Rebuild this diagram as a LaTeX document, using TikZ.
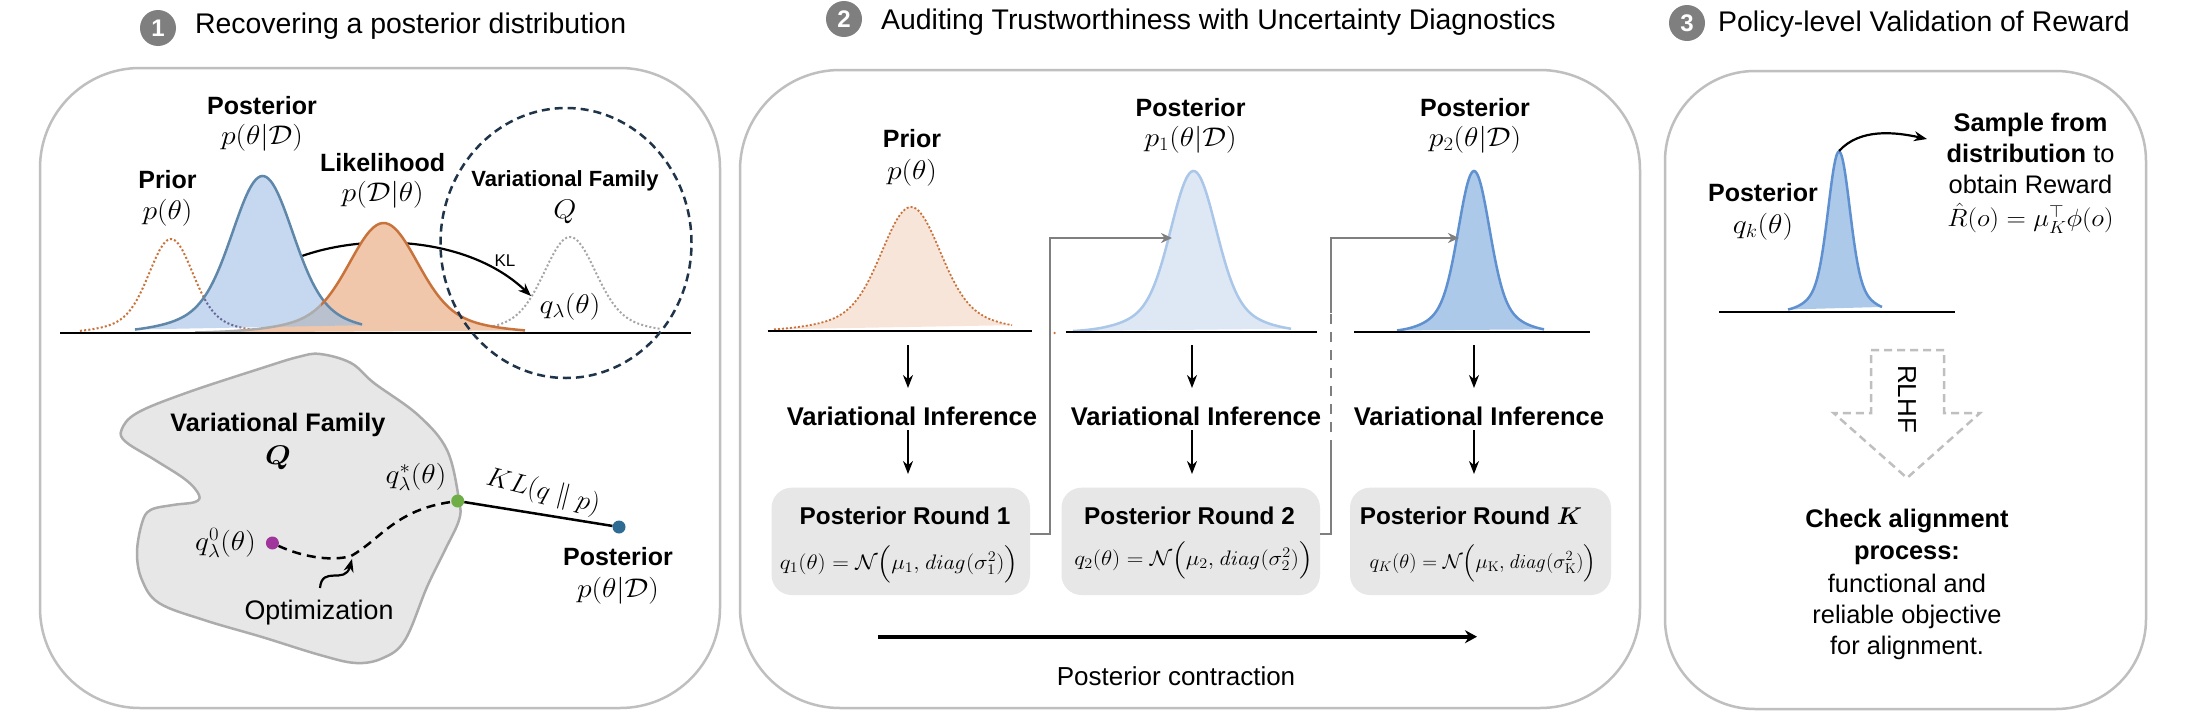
\RequirePackage{fix-cm}
\documentclass[tikz,border=0pt]{standalone}
\usepackage{amsmath}
\usepackage{bm}
\usepackage[no-math]{fontspec}
\setmainfont{Liberation Sans}
\usetikzlibrary{arrows.meta,shapes.geometric}
\newcommand{\fs}[1]{\fontsize{#1pt}{#1pt}\selectfont}
\newcommand{\mx}[1]{\scalebox{1.1}[1]{$#1$}}
% bell curve path: base y, height, centre, sigma, from, to
\newcommand{\bellp}[6]{plot[domain=#5:#6,samples=110,smooth] (\x,{#1-#2*(0.8*exp(-0.5*((\x-#3)/(0.9*#4))^2)+0.2*exp(-0.5*((\x-#3)/(1.9*#4))^2))})}
\definecolor{panelc}{HTML}{BFBFBF}
\definecolor{boxc}{HTML}{E7E7E7}
\definecolor{circc}{HTML}{7F7F7F}
\definecolor{postfill}{HTML}{C5D8EF}
\definecolor{postline}{HTML}{5F87AA}
\definecolor{likefill}{HTML}{F1C7AB}
\definecolor{likeline}{HTML}{C9733C}
\definecolor{overlap}{HTML}{BAC1CE}
\definecolor{navy}{HTML}{1F3349}
\definecolor{priorfill}{HTML}{F8E5D9}
\definecolor{pafill}{HTML}{DEE8F5}
\definecolor{paline}{HTML}{AAC6E8}
\definecolor{pbfill}{HTML}{ADC9EA}
\definecolor{pbline}{HTML}{5F90D0}
\definecolor{ptg}{HTML}{6FAD47}
\definecolor{ptm}{HTML}{A0359C}
\definecolor{ptb}{HTML}{2E6C93}
\tikzset{
  panel/.style={draw=panelc,line width=2.5pt,rounded corners=#1},
  numdot/.style={circle,fill=circc,text=white,inner sep=0pt,minimum size=36pt,font=\fs{24}\bfseries},
  head/.style={inner sep=0pt,font=\fs{28.4},anchor=west},
  lab/.style={inner sep=0pt,font=\fs{25}\bfseries,align=center},
  txt/.style={inner sep=0pt,font=\fs{25.4},align=center},
  mth/.style={inner sep=0pt,font=\fs{27}},
  axisl/.style={draw=black,line width=2.8pt},
  dotl/.style={line width=2pt,dash pattern=on 2pt off 2.2pt},
  arr/.style={draw=black,line width=1.8pt,-{Stealth[length=13pt,width=10pt]}},
  garr/.style={draw=circc,line width=2.5pt},
  rbox/.style={fill=boxc,rounded corners=20pt},
  pt/.style={circle,inner sep=0pt,minimum size=13pt},
}
\begin{document}
\begin{tikzpicture}[x=1pt,y=-1pt]
\useasboundingbox (0,0) rectangle (2196,728);
\fill[white] (0,0) rectangle (2196,728);

% ---------- headings
\node[numdot] (n1) at (158,28) {1};
\node[head] (h1) at (195,26) {Recovering a posterior distribution};
\node[numdot] (n2) at (844,19) {2};
\node[head] (h2) at (881,22) {Auditing Trustworthiness with Uncertainty Diagnostics};
\node[numdot] (n3) at (1687,23) {3};
\node[head] (h3) at (1718,24) {Policy-level Validation of Reward};

% ---------- panels
\draw[panel=100pt] (40,68) rectangle (720,708);
\draw[panel=100pt] (740,70) rectangle (1640,708);
\draw[panel=90pt] (1665,71) rectangle (2146,709);

% ---------- panel 1 curves
\draw[likeline,dotl] \bellp{333}{94}{171}{23}{80}{262};
\draw[gray!70,dotl] \bellp{333}{96}{570}{27}{485}{660};
\coordinate (klstart) at (302,256);
\coordinate (klend) at (531,296);
\fill[postfill] \bellp{333}{157}{262.6}{32}{135}{365} -- cycle;
\begin{scope}
\clip \bellp{333}{157}{262.6}{32}{135}{365} -- cycle;
\draw[gray!80!blue,dotl] \bellp{333}{94}{171}{23}{80}{262};
\end{scope}
\draw[arr,line width=2.2pt] (klstart) .. controls (370,232) and (470,238) .. (klend);
\fill[likefill] \bellp{333}{110}{383.6}{36}{195}{525} -- cycle;
\begin{scope}
\clip \bellp{333}{157}{262.6}{32}{135}{365} -- cycle;
\fill[overlap] \bellp{333}{110}{383.6}{36}{195}{525} -- cycle;
\end{scope}
\draw[postline,line width=2.5pt] \bellp{333}{157}{262.6}{32}{135}{362};
\begin{scope}
\clip (321,200) rectangle (530,340);
\draw[likeline,line width=2.5pt] \bellp{333}{110}{383.6}{36}{195}{525};
\end{scope}
\begin{scope}
\clip (195,200) rectangle (321,340);
\draw[gray!65,line width=2.5pt] \bellp{333}{110}{383.6}{36}{195}{525};
\end{scope}
\draw[axisl] (60,333) -- (691,333);
\node[draw=navy,dash pattern=on 8pt off 5pt,line width=2.5pt,ellipse,inner sep=0pt,minimum width=251pt,minimum height=270pt] (vf) at (566,243) {};

\node[lab] (l1) at (262,106) {Posterior};
\node[mth] (m1) at (262,138) {\mx{p(\theta|\mathcal{D})}};
\node[lab] (l2) at (167.5,180) {Prior};
\node[mth] (m2) at (167.5,213) {\mx{p(\theta)}};
\node[lab] (l3) at (382.7,163) {Likelihood};
\node[mth] (m3) at (382.7,195) {\mx{p(\mathcal{D}|\theta)}};
\node[lab,font=\fs{22}\bfseries] (l4) at (565,181) {Variational Family};
\node[mth] (m4) at (565,212) {\mx{Q}};
\node[mth] (m5) at (570,307) {\mx{q_\lambda(\theta)}};
\node[txt,font=\fs{17}] (kl) at (505,261) {KL};

% ---------- blob
\draw[fill=boxc,draw=gray!65,line width=2.5pt] plot[smooth cycle,tension=0.6] coordinates {
(320,354) (351,363) (374,383) (418,415) (447,450) (459,500) (459,520) (445,550) (427,587) (405,640)
(383,658) (356,663) (320,655) (262,637) (204,620) (159,603) (142,580) (137,553) (142,523) (150.5,510)
(173,505) (195,502) (199,495) (186,480) (155,460) (126,442) (121.5,430) (137,413) (186,393) (262,368) (298,357)};
\node[lab,font=\fs{25.3}\bfseries] (l5) at (278,425) {Variational Family};
\node[mth] (m6) at (278,458) {\mx{\bm{Q}}};
\node[mth] (m7) at (416,477) {\mx{q_\lambda^{*}(\theta)}};
\node[mth] (m8) at (225.5,543) {\mx{q_\lambda^{0}(\theta)}};
\node[pt,fill=ptg] (pg) at (457.7,501) {};
\node[pt,fill=ptm] (pm) at (272.4,543) {};
\node[pt,fill=ptb] (pb) at (619,527) {};
\coordinate (optmid) at (351,556);
\draw[black,line width=2.5pt,dash pattern=on 9pt off 6pt] (pm) .. controls (300,556) and (330,562) .. (optmid) .. controls (380,540) and (395,510) .. (pg);
\draw[black,line width=2.5pt] (pg) -- (pb);
\node[txt,font=\fs{26.8}] (opt) at (319,613) {Optimization};
\coordinate (optarr) at (352,559);
\draw[arr,line width=2.2pt] (320,588) .. controls (322,565) and (345,585) .. (optarr);
\node[mth,rotate=-14] (m9) at (543,492) {$KL(q\parallel p)$};
\node[lab] (l6) at (618,557) {Posterior};
\node[mth] (m10) at (618,591) {\mx{p(\theta|\mathcal{D})}};

% ---------- panel 2
\fill[priorfill] \bellp{331}{124}{911}{31}{774}{1012} -- cycle;
\draw[likeline,line width=1.8pt,dash pattern=on 2pt off 2pt] \bellp{331}{124}{911}{31}{774}{1012};
\draw[axisl] (767.5,331) -- (1031.6,331);
\fill[pafill] \bellp{332}{161}{1193.5}{24}{1073}{1291} -- cycle;
\draw[paline,line width=2.5pt] \bellp{332}{161}{1193.5}{24}{1073}{1291};
\draw[axisl] (1065.5,332) -- (1317,332);
\fill[pbfill] \bellp{332}{161}{1474}{16.5}{1397}{1544} -- cycle;
\draw[pbline,line width=2.5pt] \bellp{332}{161}{1474}{16.5}{1397}{1544};
\draw[axisl] (1354,332) -- (1590,332);

\node[lab] (a1) at (912,139) {Prior};
\node[mth] (a2) at (912,173) {\mx{p(\theta)}};
\node[lab] (a3) at (1190.6,108) {Posterior};
\node[mth] (a4) at (1190.6,140) {\mx{p_1(\theta|\mathcal{D})}};
\node[lab] (a5) at (1475,108) {Posterior};
\node[mth] (a6) at (1475,140) {\mx{p_2(\theta|\mathcal{D})}};

\coordinate (d1a) at (908,345); \coordinate (d1b) at (908,388);
\coordinate (d2a) at (1192,345); \coordinate (d2b) at (1192,388);
\coordinate (d3a) at (1474,345); \coordinate (d3b) at (1474,388);
\coordinate (e1a) at (908,430); \coordinate (e1b) at (908,474);
\coordinate (e2a) at (1192,430); \coordinate (e2b) at (1192,474);
\coordinate (e3a) at (1474,430); \coordinate (e3b) at (1474,474);
\foreach \a/\b in {d1a/d1b,d2a/d2b,d3a/d3b,e1a/e1b,e2a/e2b,e3a/e3b}
  \draw[arr] (\a) -- (\b);

\node[lab,font=\fs{25.6}\bfseries] (v1) at (912,416) {Variational Inference};
\node[lab,font=\fs{25.6}\bfseries] (v2) at (1196,416) {Variational Inference};
\node[lab,font=\fs{25.6}\bfseries] (v3) at (1479,416) {Variational Inference};

\fill[rbox] (771.6,487.7) rectangle (1030,595);
\fill[rbox] (1061.5,487.7) rectangle (1320,595);
\fill[rbox] (1350,487.7) rectangle (1611,595);
\coordinate (b1r) at (1030,534);
\coordinate (b2r) at (1320,534);
\coordinate (c1) at (1050,238);
\coordinate (t1) at (1172,238);
\coordinate (c2) at (1331,238);
\coordinate (t2) at (1459,238);
\coordinate (c2a) at (1331,450);
\coordinate (c2b) at (1331,313);
\draw[garr,-{Stealth[length=11pt,width=10pt]}] (b1r) -| (c1) -- (t1);
\draw[garr] (b2r) -| (c2a);
\draw[garr,dash pattern=on 10pt off 8pt] (c2a) -- (c2b);
\draw[garr,-{Stealth[length=11pt,width=10pt]}] (c2b) -- (c2) -- (t2);
\fill[likeline] (1054.6,333) circle (1.3pt);

\node[lab,font=\fs{24.3}\bfseries] (r1) at (905,515.7) {Posterior Round 1};
\node[lab,font=\fs{24.3}\bfseries] (r2) at (1189.5,515.7) {Posterior Round 2};
\node[lab,font=\fs{24.3}\bfseries] (r3) at (1471,515.7) {Posterior Round $\bm{K}$};
\node[mth,font=\fs{21}] (f1) at (899,564) {\scalebox{1.1}[1]{$q_1(\theta)=\mathcal{N}\Big(\mu_1,\mathit{diag}(\sigma_1^2)\Big)$}};
\node[mth,font=\fs{21}] (f2) at (1193.5,560) {\scalebox{1.1}[1]{$q_2(\theta)=\mathcal{N}\Big(\mu_2,\mathit{diag}(\sigma_2^2)\Big)$}};
\node[mth,font=\fs{20}] (f3) at (1483,563) {\scalebox{1.03}[1]{$q_K(\theta)=\mathcal{N}\Big(\mu_{\mathrm{K}},\mathit{diag}(\sigma_{\mathrm{K}}^2)\Big)$}};

\coordinate (ca) at (878,636.7);
\coordinate (cb) at (1477,636.7);
\draw[draw=black,line width=4pt,-{Stealth[length=12pt,width=13pt]}] (ca) -- (cb);
\node[txt,font=\fs{26}] (pc) at (1176,675.7) {Posterior contraction};

% ---------- panel 3
\fill[pbfill] \bellp{311.6}{160}{1839}{11.5}{1788}{1882} -- cycle;
\draw[pbline,line width=2.5pt] \bellp{311.6}{160}{1839}{11.5}{1788}{1882};
\draw[axisl,line width=2.2pt] (1719,311.6) -- (1955,311.6);
\coordinate (spk) at (1839,151);
\coordinate (stp) at (1927,139);
\draw[arr,line width=2.2pt] (spk) .. controls (1860,128) and (1895,132) .. (stp);
\node[lab] (p1) at (1763,193) {Posterior};
\node[mth] (p2) at (1763,226.5) {\mx{q_k(\theta)}};
\node[lab,font=\fs{25.4}\bfseries] (p3) at (2030.5,138) {Sample from\\[6pt]distribution \normalfont to};
\node[txt] (p4) at (2030.5,184.6) {obtain Reward};
\node[mth,font=\fs{25}] (p5) at (2030.5,218) {\scalebox{1.07}[1]{$\hat{R}(o)=\mu_K^{\top}\phi(o)$}};
\draw[draw=panelc,dash pattern=on 8pt off 5pt,line width=2.5pt] (1871,350) -- (1944,350) -- (1944,413) -- (1980,413) -- (1907,478) -- (1833.6,413) -- (1871,413) -- cycle;
\node[txt,font=\fs{26},rotate=-90] (rl) at (1907,399) {RLHF};
\node[lab,font=\fs{25.4}\bfseries] (c1t) at (1907,537) {Check alignment\\[6pt]process:};
\node[txt] (c2t) at (1907,617) {functional and\\[6pt]reliable objective\\[6pt]for alignment.};
\end{tikzpicture}
\end{document}
